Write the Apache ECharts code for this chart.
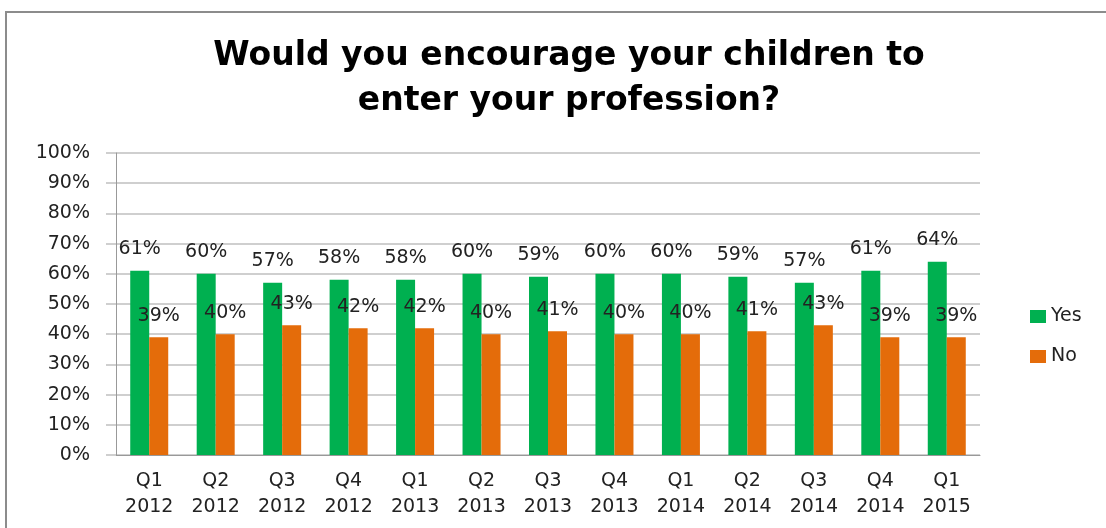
<!DOCTYPE html>
<html>
<head>
<meta charset="utf-8">
<script src="https://cdn.jsdelivr.net/npm/echarts@6/dist/echarts.min.js"></script>
<style>
  html, body { margin: 0; padding: 0; background: #fff; }
  #chart { width: 1106px; height: 528px; }
  .frame { position: absolute; left: 5px; top: 11px; width: 1110px; height: 530px; border: 2px solid #8c8c8c; box-sizing: border-box; pointer-events: none; }
</style>
</head>
<body>
<div id="chart"></div>
<div class="frame"></div>
<script>
  var quarters = ['Q1\n2012', 'Q2\n2012', 'Q3\n2012', 'Q4\n2012', 'Q1\n2013', 'Q2\n2013', 'Q3\n2013',
                  'Q4\n2013', 'Q1\n2014', 'Q2\n2014', 'Q3\n2014', 'Q4\n2014', 'Q1\n2015'];
  var yesValues = [61, 60, 57, 58, 58, 60, 59, 60, 60, 59, 57, 61, 64];
  var noValues = [39, 40, 43, 42, 42, 40, 41, 40, 40, 41, 43, 39, 39];

  var myChart = echarts.init(document.getElementById('chart'));

  // texte un peu plus large, comme dans l'original étiré
  var labelFont = { fontFamily: 'DejaVu Sans', fontSize: 19, color: '#222' };

  var option = {
    animation: false,
    color: ['#00b050', '#e46c0a'],
    title: {
      text: 'Would you encourage your children to\nenter your profession?',
      left: 564,
      textAlign: 'center',
      top: 29,
      textStyle: { fontFamily: 'DejaVu Sans', fontWeight: 'bold', fontSize: 33, lineHeight: 45, color: '#000' }
    },
    legend: {
      orient: 'vertical',
      left: 1025,
      top: 302,
      itemWidth: 16,
      itemHeight: 13,
      itemGap: 21,
      icon: 'rect',
      textStyle: { fontFamily: 'DejaVu Sans', fontSize: 19, color: '#222' },
      data: ['Yes', 'No']
    },
    grid: { left: 116, right: 126, top: 153, bottom: 73 },
    xAxis: {
      type: 'category',
      data: quarters,
      axisLine: { lineStyle: { color: '#999' } },
      axisTick: { length: 8, lineStyle: { color: '#999' } },
      axisLabel: { fontFamily: 'DejaVu Sans', fontSize: 19, color: '#222', lineHeight: 26, margin: 13 }
    },
    yAxis: {
      type: 'value',
      min: 0,
      max: 100,
      interval: 10,
      axisLine: { show: true, lineStyle: { color: '#999' } },
      axisTick: { show: true, length: 10, lineStyle: { color: '#cfcfcf', width: 2 } },
      splitLine: { lineStyle: { color: '#cfcfcf', width: 2 } },
      axisLabel: { fontFamily: 'DejaVu Sans', fontSize: 19, color: '#222', margin: 26, formatter: '{value}%' }
    },
    series: [
      {
        name: 'Yes',
        type: 'bar',
        data: yesValues,
        barWidth: 19,
        barGap: '0%',
        label: Object.assign({ show: true, position: 'top', distance: 12, formatter: '{c}%' }, labelFont)
      },
      {
        name: 'No',
        type: 'bar',
        data: noValues,
        barWidth: 19,
        label: Object.assign({ show: true, position: 'top', distance: 12, formatter: '{c}%' }, labelFont)
      }
    ]
  };

  myChart.setOption(option);
</script>
</body>
</html>
